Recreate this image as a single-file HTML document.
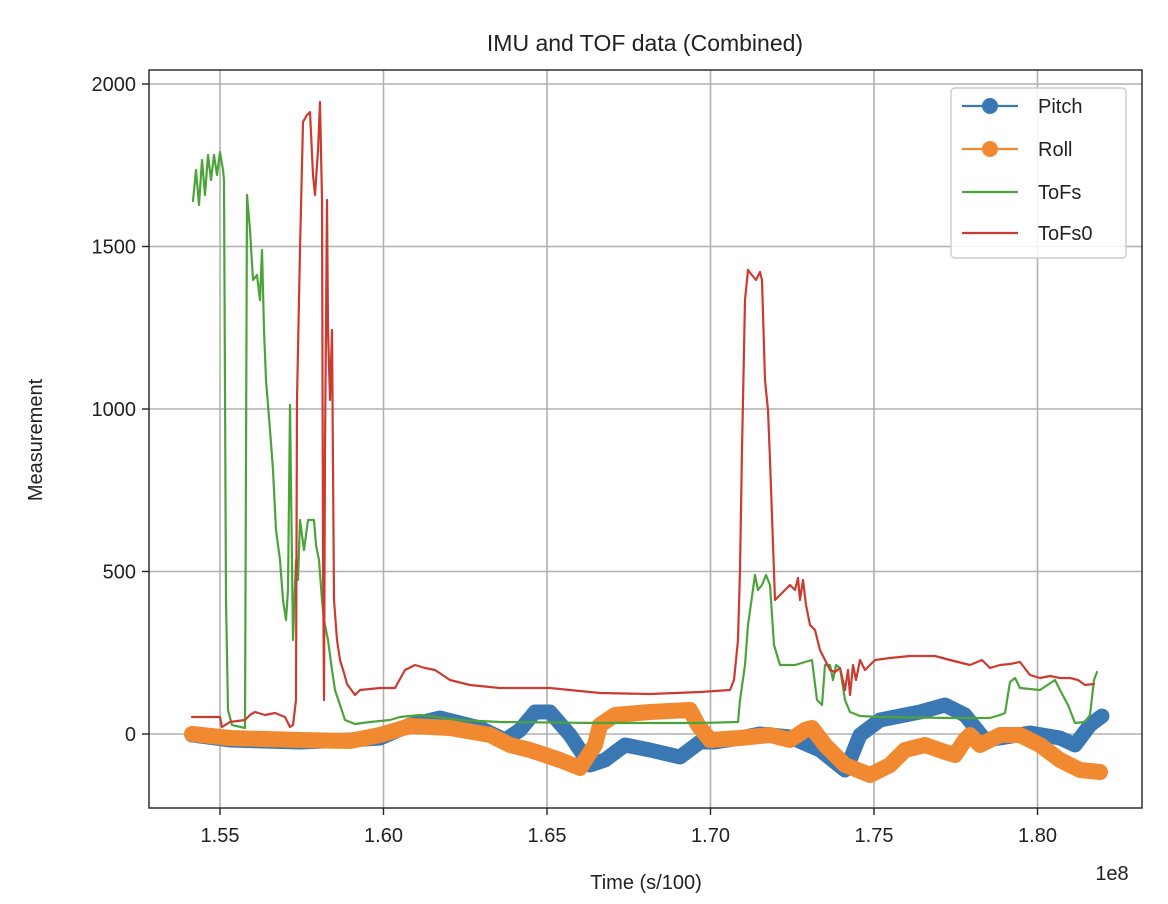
<!DOCTYPE html>
<html><head><meta charset="utf-8"><style>body{margin:0;background:#fff}svg{display:block}text{font-family:"Liberation Sans","DejaVu Sans",sans-serif;fill:#222}</style></head><body>
<svg width="1168" height="904" viewBox="0 0 1168 904" xmlns="http://www.w3.org/2000/svg">
<rect width="1168" height="904" fill="#fff"/>
<g stroke="#b0b0b0" stroke-width="1.6">
<line x1="220" y1="70" x2="220" y2="808"/><line x1="383.5" y1="70" x2="383.5" y2="808"/><line x1="547" y1="70" x2="547" y2="808"/><line x1="710.5" y1="70" x2="710.5" y2="808"/><line x1="874" y1="70" x2="874" y2="808"/><line x1="1037.5" y1="70" x2="1037.5" y2="808"/>
<line x1="149" y1="734" x2="1142" y2="734"/><line x1="149" y1="571.5" x2="1142" y2="571.5"/><line x1="149" y1="409" x2="1142" y2="409"/><line x1="149" y1="246.5" x2="1142" y2="246.5"/><line x1="149" y1="84" x2="1142" y2="84"/>
</g>
<g fill="none" stroke-linejoin="round" stroke-linecap="round">
<polyline stroke="#3a78b4" stroke-width="15" points="192,735 230,740 300,742 350,740 380,738 410,725 440,718 480,728 505,740 520,730 535,712 550,712 570,735 590,765 605,760 625,745 650,750 680,757 700,742 715,742 740,738 760,734 790,737 820,750 845,770 850,760 860,735 880,720 920,712 945,705 965,715 985,740 1000,738 1030,733 1060,738 1075,745 1090,725 1102,716"/>
<polyline stroke="#f0892f" stroke-width="16" points="192,734 230,738 300,740 350,741 380,735 410,726 450,728 490,735 510,745 530,750 560,760 580,768 595,745 600,725 615,715 650,712 690,710 698,725 710,740 740,738 770,735 790,740 805,730 812,728 825,745 845,765 870,775 890,765 905,750 925,745 945,752 955,755 965,740 970,735 980,745 1000,735 1020,735 1040,745 1060,760 1080,770 1100,772"/>
<polyline stroke="#4ca33a" stroke-width="2.2" points="193,201 196,170 199,205 202,160 205,195 208,155 211,180 214,155 217,175 220,152 223,170 224,180 226,600 228,710 232,725 245,728 247,195 250,230 253,280 257,275 260,300 262,250 264,330 266,380 270,430 273,470 276,530 280,560 283,600 286,620 288,590 290,405 293,640 296,560 298,580 300,520 304,550 308,520 312,520 314,520 316,545 319,560 322,600 324,620 328,640 332,670 335,690 340,705 345,720 355,724 370,722 390,720 400,717 420,715 460,720 500,722 600,723 700,723 738,722 740,700 745,665 748,625 755,575 758,590 762,585 766,575 770,585 774,645 780,665 795,665 812,660 817,700 822,705 825,665 830,665 833,680 836,665 840,668 845,700 850,712 860,716 880,717 950,718 990,718 1000,715 1005,713 1010,682 1015,678 1020,688 1040,690 1055,680 1060,690 1068,705 1075,723 1085,722 1090,715 1094,680 1097,672"/>
<polyline stroke="#cc3a30" stroke-width="2.2" points="192,717 220,717 222,727 230,722 245,720 250,715 255,712 265,715 275,713 285,717 290,727 293,725 296,700 297,400 300,250 303,122 307,115 310,112 313,175 315,195 318,150 320,102 322,200 323,550 324,700 325,450 327,200 328,330 330,400 332,330 334,600 337,640 340,660 344,673 347,684 355,695 360,690 380,688 395,688 405,670 415,665 425,668 435,670 450,680 470,685 500,688 550,688 600,693 650,694 700,692 730,690 734,680 738,640 740,570 742,450 745,300 748,270 752,275 756,280 760,272 762,280 765,380 768,410 770,460 775,600 780,595 785,590 790,585 795,590 798,578 800,600 803,580 806,605 810,625 815,630 820,650 825,660 830,670 835,672 840,668 845,690 848,670 850,695 853,665 856,680 860,660 865,670 875,660 890,658 910,656 935,656 950,660 970,665 982,660 990,668 1000,665 1010,664 1020,662 1030,675 1040,678 1050,676 1060,678 1070,678 1078,680 1085,685 1094,684"/>
</g>
<rect x="149" y="70" width="993" height="738" fill="none" stroke="#222" stroke-width="1.4"/>
<g stroke="#222" stroke-width="1.4">
<line x1="220" y1="808" x2="220" y2="815"/><line x1="383.5" y1="808" x2="383.5" y2="815"/><line x1="547" y1="808" x2="547" y2="815"/><line x1="710.5" y1="808" x2="710.5" y2="815"/><line x1="874" y1="808" x2="874" y2="815"/><line x1="1037.5" y1="808" x2="1037.5" y2="815"/>
<line x1="142" y1="734" x2="149" y2="734"/><line x1="142" y1="571.5" x2="149" y2="571.5"/><line x1="142" y1="409" x2="149" y2="409"/><line x1="142" y1="246.5" x2="149" y2="246.5"/><line x1="142" y1="84" x2="149" y2="84"/>
</g>
<g font-size="20" text-anchor="middle">
<text x="220" y="842">1.55</text><text x="383.5" y="842">1.60</text><text x="547" y="842">1.65</text><text x="710.5" y="842">1.70</text><text x="874" y="842">1.75</text><text x="1037.5" y="842">1.80</text>
<text x="1112" y="880">1e8</text>
<text x="646" y="889">Time (s/100)</text>
</g>
<g font-size="20" text-anchor="end">
<text x="136" y="741">0</text><text x="136" y="578.5">500</text><text x="136" y="416">1000</text><text x="136" y="253.5">1500</text><text x="136" y="91">2000</text>
</g>
<text x="42" y="440" font-size="20" text-anchor="middle" transform="rotate(-90 42 440)">Measurement</text>
<text x="645" y="51" font-size="23" text-anchor="middle">IMU and TOF data (Combined)</text>
<rect x="951" y="88" width="175" height="170" rx="4" fill="#fff" fill-opacity="0.85" stroke="#ccc" stroke-width="1.4"/>
<g stroke-width="2.2">
<line x1="962" y1="106" x2="1018" y2="106" stroke="#3a78b4"/><circle cx="990" cy="106" r="8" fill="#3a78b4"/>
<line x1="962" y1="149" x2="1018" y2="149" stroke="#f0892f"/><circle cx="990" cy="149" r="8" fill="#f0892f"/>
<line x1="962" y1="192" x2="1018" y2="192" stroke="#4ca33a"/>
<line x1="962" y1="233" x2="1018" y2="233" stroke="#cc3a30"/>
</g>
<g font-size="20"><text x="1038" y="113">Pitch</text><text x="1038" y="156">Roll</text><text x="1038" y="199">ToFs</text><text x="1038" y="240">ToFs0</text></g>
</svg>
</body></html>
